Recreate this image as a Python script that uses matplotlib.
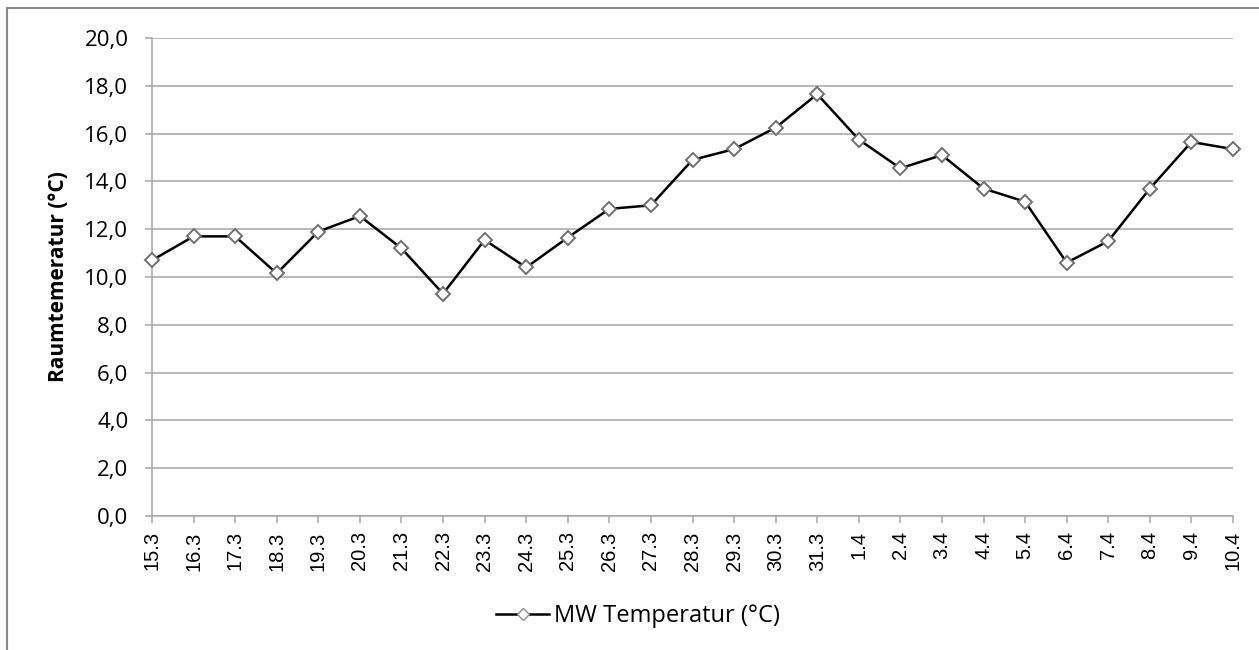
import matplotlib
matplotlib.use("Agg")
import matplotlib.pyplot as plt
from matplotlib.patches import Rectangle

categories = ["15.3", "16.3", "17.3", "18.3", "19.3", "20.3", "21.3", "22.3", "23.3",
              "24.3", "25.3", "26.3", "27.3", "28.3", "29.3", "30.3", "31.3", "1.4",
              "2.4", "3.4", "4.4", "5.4", "6.4", "7.4", "8.4", "9.4", "10.4"]
temperature = [10.7, 11.7, 11.7, 10.15, 11.9, 12.55, 11.2, 9.3, 11.55, 10.4, 11.65,
               12.85, 13.0, 14.9, 15.35, 16.25, 17.65, 15.75, 14.55, 15.1, 13.7,
               13.15, 10.6, 11.5, 13.7, 15.65, 15.35]
y_ticks = [0, 2, 4, 6, 8, 10, 12, 14, 16, 18, 20]
y_tick_labels = [f"{v:.1f}".replace(".", ",") for v in y_ticks]
series_name = "MW Temperatur (°C)"
y_label = "Raumtemeratur (°C)"

plt.rcParams['font.family'] = ['Open Sans', 'DejaVu Sans']

W, H = 1259, 650
fig = plt.figure(figsize=(W / 100, H / 100), dpi=100)
fig.patches.append(Rectangle((7 / W, -0.1), 1.2, 1 - 8 / H + 0.1, transform=fig.transFigure,
                             fill=False, edgecolor="#8a8a8a", linewidth=1.5))

ax = fig.add_axes([152 / W, 1 - 516 / H, (1233 - 152) / W, (516 - 38) / H])
x = list(range(len(categories)))
line, = ax.plot(x, temperature, color="black", linewidth=1.8, marker="D",
                markersize=7.5, markerfacecolor="white", markeredgecolor="#6f6f6f",
                markeredgewidth=1.4, zorder=3, clip_on=False)

ax.set_xlim(0, len(categories) - 1)
ax.set_ylim(0, 20)
ax.set_yticks(y_ticks)
ax.set_yticklabels(y_tick_labels, fontsize=16)
ax.set_xticks(x)
ax.set_xticklabels(categories, rotation=90, fontsize=14.5, family=["Liberation Sans", "DejaVu Sans"])
ax.yaxis.grid(True, color="#a6a6a6", linewidth=1.1)
ax.set_axisbelow(True)
for s in ["top", "right"]:
    ax.spines[s].set_visible(False)
for s in ["left", "bottom"]:
    ax.spines[s].set_color("#a6a6a6")
    ax.spines[s].set_linewidth(1.1)
ax.tick_params(axis="both", direction="out", color="#a6a6a6", length=5, width=1.1)
ax.tick_params(axis="y", pad=12)
ax.tick_params(axis="x", pad=6)
ax.set_ylabel(y_label, fontsize=15, fontweight="bold")
ax.yaxis.set_label_coords((69 - 152) / (1233 - 152), 0.5)

handle, = ax.plot([], [], color="black", linewidth=1.8, marker="D", markersize=6,
                  markerfacecolor="white", markeredgecolor="#8f8f8f", markeredgewidth=1.0,
                  label=series_name)
fig.legend(handles=[handle], loc="center", bbox_to_anchor=(638 / W, 1 - 616 / H),
           frameon=False, fontsize=17, handlelength=2.25, handletextpad=0.2)

fig.savefig("out.png", dpi=100, facecolor="white")
